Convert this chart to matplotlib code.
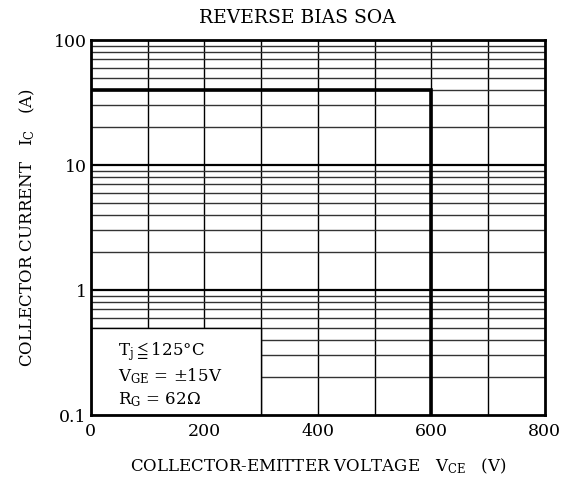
import matplotlib
matplotlib.use("Agg")
import matplotlib.pyplot as plt
from matplotlib.patches import Rectangle

plt.rcParams['font.family'] = ['DejaVu Serif']
plt.rcParams['mathtext.fontset'] = 'dejavuserif'

# SOA boundary
vce = [0, 600, 600]
ic = [40, 40, 0.1]

x_ticks = [0, 200, 400, 600, 800]
y_ticks = [0.1, 1, 10, 100]
y_tick_labels = ["0.1", "1", "10", "100"]

fig = plt.figure(figsize=(5.64, 4.82), dpi=100)
ax = fig.add_axes([0.161, 0.139, 0.805, 0.778])
ax.set_yscale('log')
ax.set_xlim(0, 800)
ax.set_ylim(0.1, 100)

# grid
for x in range(100, 800, 100):
    ax.axvline(x, color='black', lw=1.0, zorder=1)
for dec in [0.1, 1, 10]:
    for m in range(2, 10):
        ax.axhline(dec * m, color='#333333', lw=1.0, zorder=1)
for y in [1, 10]:
    ax.axhline(y, color='black', lw=1.6, zorder=1)

# white box for conditions
ax.add_patch(Rectangle((0, 0.1), 300, 0.4, facecolor='white',
                       edgecolor='black', lw=1.0, zorder=2))
ax.text(48, 0.32, r"T$_\mathregular{j}$$\leqq$125°C", fontsize=12, zorder=3, va='center')
ax.text(48, 0.205, r"V$_\mathregular{GE}$ = ±15V", fontsize=12, zorder=3, va='center')
ax.text(48, 0.133, r"R$_\mathregular{G}$ = 62Ω", fontsize=12, zorder=3, va='center')

ax.plot(vce, ic, color='black', lw=2.6, zorder=4, solid_joinstyle='miter')

ax.set_xticks(x_ticks)
ax.set_yticks(y_ticks)
ax.set_yticklabels(y_tick_labels)
ax.minorticks_off()
ax.tick_params(length=0, labelsize=12.5)
ax.tick_params(axis='x', pad=6)
ax.tick_params(axis='y', pad=3)
for s in ax.spines.values():
    s.set_linewidth(2)
    s.set_zorder(5)

ax.set_title("REVERSE BIAS SOA", fontsize=13.5, pad=12, x=0.455)
ax.set_xlabel(r"COLLECTOR-EMITTER VOLTAGE   V$_\mathregular{CE}$   (V)", fontsize=12, labelpad=12)
ax.set_ylabel(r"COLLECTOR CURRENT   I$_\mathregular{C}$   (A)", fontsize=12, labelpad=12)

fig.savefig("out.png", dpi=100)
